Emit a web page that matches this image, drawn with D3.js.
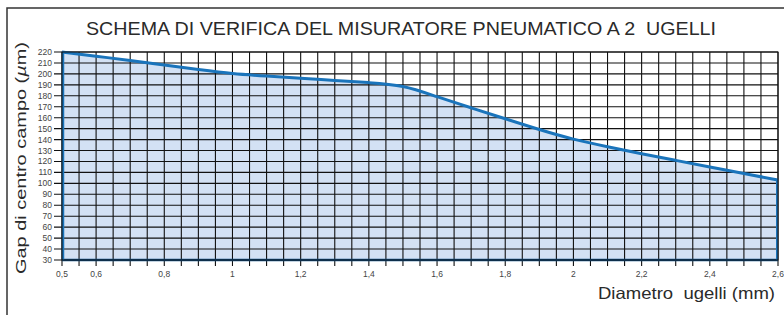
<!DOCTYPE html>
<html>
<head>
<meta charset="utf-8">
<script src="https://cdn.jsdelivr.net/npm/d3@7"></script>
<style>
  body { margin: 0; background: #fff; }
  svg { display: block; font-family: "Liberation Sans", Arial, sans-serif; }
</style>
</head>
<body>
<svg id="chart" width="784" height="315"></svg>
<script>
// diametro ugelli (mm) vs gap di centro campo (µm)
const diametro = [0.5, 0.6, 0.7, 0.8, 0.9, 1.0, 1.1, 1.2, 1.3, 1.4, 1.5, 1.6, 1.7, 1.8, 1.9, 2.0, 2.1, 2.2, 2.3, 2.4, 2.5, 2.6];
const gap = [220, 216, 212.5, 208, 204, 200, 198, 196, 194, 192, 190, 179, 169, 159, 149, 140, 133.5, 127, 121, 115, 109, 103];
const xLabelTicks = [0.5, 0.6, 0.8, 1, 1.2, 1.4, 1.6, 1.8, 2, 2.2, 2.4, 2.6];
const yTicks = d3.range(30, 221, 10);
const xGrid = d3.range(0, 43).map(i => 0.5 + i * 0.05);

const title = "SCHEMA DI VERIFICA DEL MISURATORE PNEUMATICO A 2  UGELLI";
const xTitle = "Diametro  ugelli (mm)";

const svg = d3.select('#chart');
const margin = { top: 52, right: 6, bottom: 55, left: 62 };
const W = 784, H = 315;

const x = d3.scaleLinear().domain([0.5, 2.6]).range([margin.left, W - margin.right]);
const y = d3.scaleLinear().domain([30, 220]).range([H - margin.bottom, margin.top]);

const data = diametro.map((d, i) => ({ x: d, y: gap[i] }));

// outer frame (runs off the right/bottom edges)
svg.append('rect')
    .attr('x', 7).attr('y', 8)
    .attr('width', 900).attr('height', 400)
    .attr('fill', 'none')
    .attr('stroke', '#333')
    .attr('stroke-width', 1.5);

// title - stretched to the width of the original lettering
svg.append('text')
    .attr('x', 86).attr('y', 35)
    .attr('fill', '#2a2a2a')
    .attr('textLength', 630)
    .attr('lengthAdjust', 'spacingAndGlyphs')
    .style('font-size', '17.5px')
    .style('white-space', 'pre')
    .text(title);

// filled area under the curve
const area = d3.area()
    .x(d => x(d.x))
    .y0(y(30))
    .y1(d => y(d.y))
    .curve(d3.curveBasis);

svg.append('path')
    .datum(data)
    .attr('fill', '#d3e1f4')
    .attr('d', area);

// grid
const grid = svg.append('g').attr('stroke', '#111').attr('stroke-width', 1.1);
grid.selectAll('.vg')
    .data(xGrid)
    .join('line')
    .attr('x1', d => x(d)).attr('x2', d => x(d))
    .attr('y1', y(220)).attr('y2', y(30) + 6);
grid.selectAll('.hg')
    .data(yTicks)
    .join('line')
    .attr('x1', x(0.5) - 8).attr('x2', x(2.6))
    .attr('y1', d => y(d)).attr('y2', d => y(d));

// y tick labels
svg.append('g')
    .selectAll('text')
    .data(yTicks)
    .join('text')
    .attr('x', x(0.5) - 10)
    .attr('y', d => y(d) + 3)
    .attr('text-anchor', 'end')
    .attr('fill', '#444')
    .style('font-size', '8.5px')
    .text(d => d);

// x tick labels (comma decimals)
const fmt = d => d3.format('.1f')(d).replace(/\.0$/, '').replace('.', ',');
svg.append('g')
    .selectAll('text')
    .data(xLabelTicks)
    .join('text')
    .attr('x', d => x(d))
    .attr('y', 277)
    .attr('text-anchor', 'middle')
    .attr('fill', '#444')
    .style('font-size', '8.5px')
    .text(fmt);

// blue outline of the area
svg.append('line')
    .attr('x1', x(0.5)).attr('x2', x(2.6))
    .attr('y1', y(30)).attr('y2', y(30))
    .attr('stroke', '#0d4f86').attr('stroke-width', 2.5);
svg.append('line')
    .attr('x1', x(0.5) + 1).attr('x2', x(0.5) + 1)
    .attr('y1', y(gap[0])).attr('y2', y(30))
    .attr('stroke', '#1a74bb').attr('stroke-width', 2.5);
svg.append('line')
    .attr('x1', x(2.6) - 1).attr('x2', x(2.6) - 1)
    .attr('y1', y(gap[gap.length - 1])).attr('y2', y(30))
    .attr('stroke', '#1a74bb').attr('stroke-width', 2);

const line = d3.line()
    .x(d => x(d.x))
    .y(d => y(d.y))
    .curve(d3.curveBasis);

svg.append('path')
    .datum(data)
    .attr('fill', 'none')
    .attr('stroke', '#1a74bb')
    .attr('stroke-width', 3)
    .attr('d', line);

// plot border
svg.append('rect')
    .attr('x', x(0.5)).attr('y', y(220))
    .attr('width', x(2.6) - x(0.5)).attr('height', y(30) - y(220))
    .attr('fill', 'none')
    .attr('stroke', '#111')
    .attr('stroke-width', 1);

// axis titles
svg.append('text')
    .attr('transform', `translate(26,${(y(30) + y(220)) / 2 + 2}) rotate(-90)`)
    .attr('text-anchor', 'middle')
    .attr('fill', '#2a2a2a')
    .attr('textLength', 232)
    .attr('lengthAdjust', 'spacingAndGlyphs')
    .style('font-size', '15.5px')
    .html('Gap di centro campo (<tspan font-style="italic">µ</tspan>m)');

svg.append('text')
    .attr('x', 598).attr('y', 299)
    .attr('fill', '#2a2a2a')
    .attr('textLength', 177)
    .attr('lengthAdjust', 'spacingAndGlyphs')
    .style('font-size', '16.5px')
    .style('white-space', 'pre')
    .text(xTitle);
</script>
</body>
</html>
